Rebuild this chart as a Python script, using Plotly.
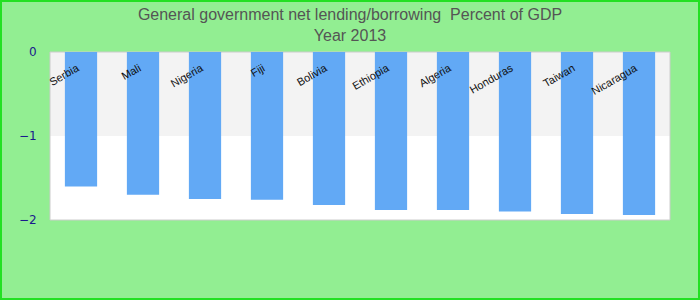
import plotly.graph_objects as go

countries = ["Serbia", "Mali", "Nigeria", "Fiji", "Bolivia", "Ethiopia",
             "Algeria", "Honduras", "Taiwan", "Nicaragua"]
values = [-1.60, -1.70, -1.75, -1.76, -1.82, -1.88, -1.88, -1.90, -1.93, -1.94]
y_ticks = [0, -1, -2]
title_text = "General government net lending/borrowing  Percent of GDP<br>Year 2013"

ML, MR, MT, MB = 50, 30, 52, 80
W, H = 700, 300
PW, PH = W - ML - MR, H - MT - MB

fig = go.Figure()
fig.add_trace(go.Bar(x=countries, y=values, marker_color="#62a9f5",
                     marker_line_width=0, width=0.52))

shapes = [
    dict(type="rect", xref="paper", yref="y", x0=0, x1=1, y0=-1, y1=0,
         fillcolor="#f3f3f3", line_width=0, layer="below"),
    dict(type="rect", xref="paper", yref="paper", x0=0, x1=1, y0=0, y1=1,
         line=dict(color="#cccccc", width=1), layer="below"),
    dict(type="rect", xref="paper", yref="paper",
         x0=-(ML - 1) / PW, x1=(W - ML - 1) / PW,
         y0=-(MB - 1) / PH, y1=1 + (MT - 1) / PH,
         line=dict(color="#22e022", width=2), layer="below"),
]

fig.update_layout(
    width=W, height=H,
    margin=dict(l=ML, r=MR, t=MT, b=MB),
    paper_bgcolor="#92ee92",
    plot_bgcolor="#ffffff",
    showlegend=False,
    title=dict(text=title_text, x=0.5, xanchor="center", yref="container",
               y=1 - 20 / H, yanchor="middle",
               font=dict(family="Liberation Sans, Arial", size=16, color="#555555")),
    shapes=shapes,
    xaxis=dict(side="bottom", anchor="free", position=1, tickangle=-30,
               showgrid=False, showline=False, ticks="", zeroline=False,
               ticklabelstandoff=7, ticklabelshift=-4,
               tickfont=dict(family="Liberation Sans, Arial", size=11, color="#111111")),
    yaxis=dict(range=[-2, 0], tickvals=y_ticks, showgrid=False, zeroline=False,
               showline=False, ticks="outside", ticklen=10, tickcolor="rgba(0,0,0,0)",
               tickfont=dict(family="DejaVu Sans", size=12, color="#1a1a8c")),
    bargap=0.48,
)

fig.write_html("out.html")
